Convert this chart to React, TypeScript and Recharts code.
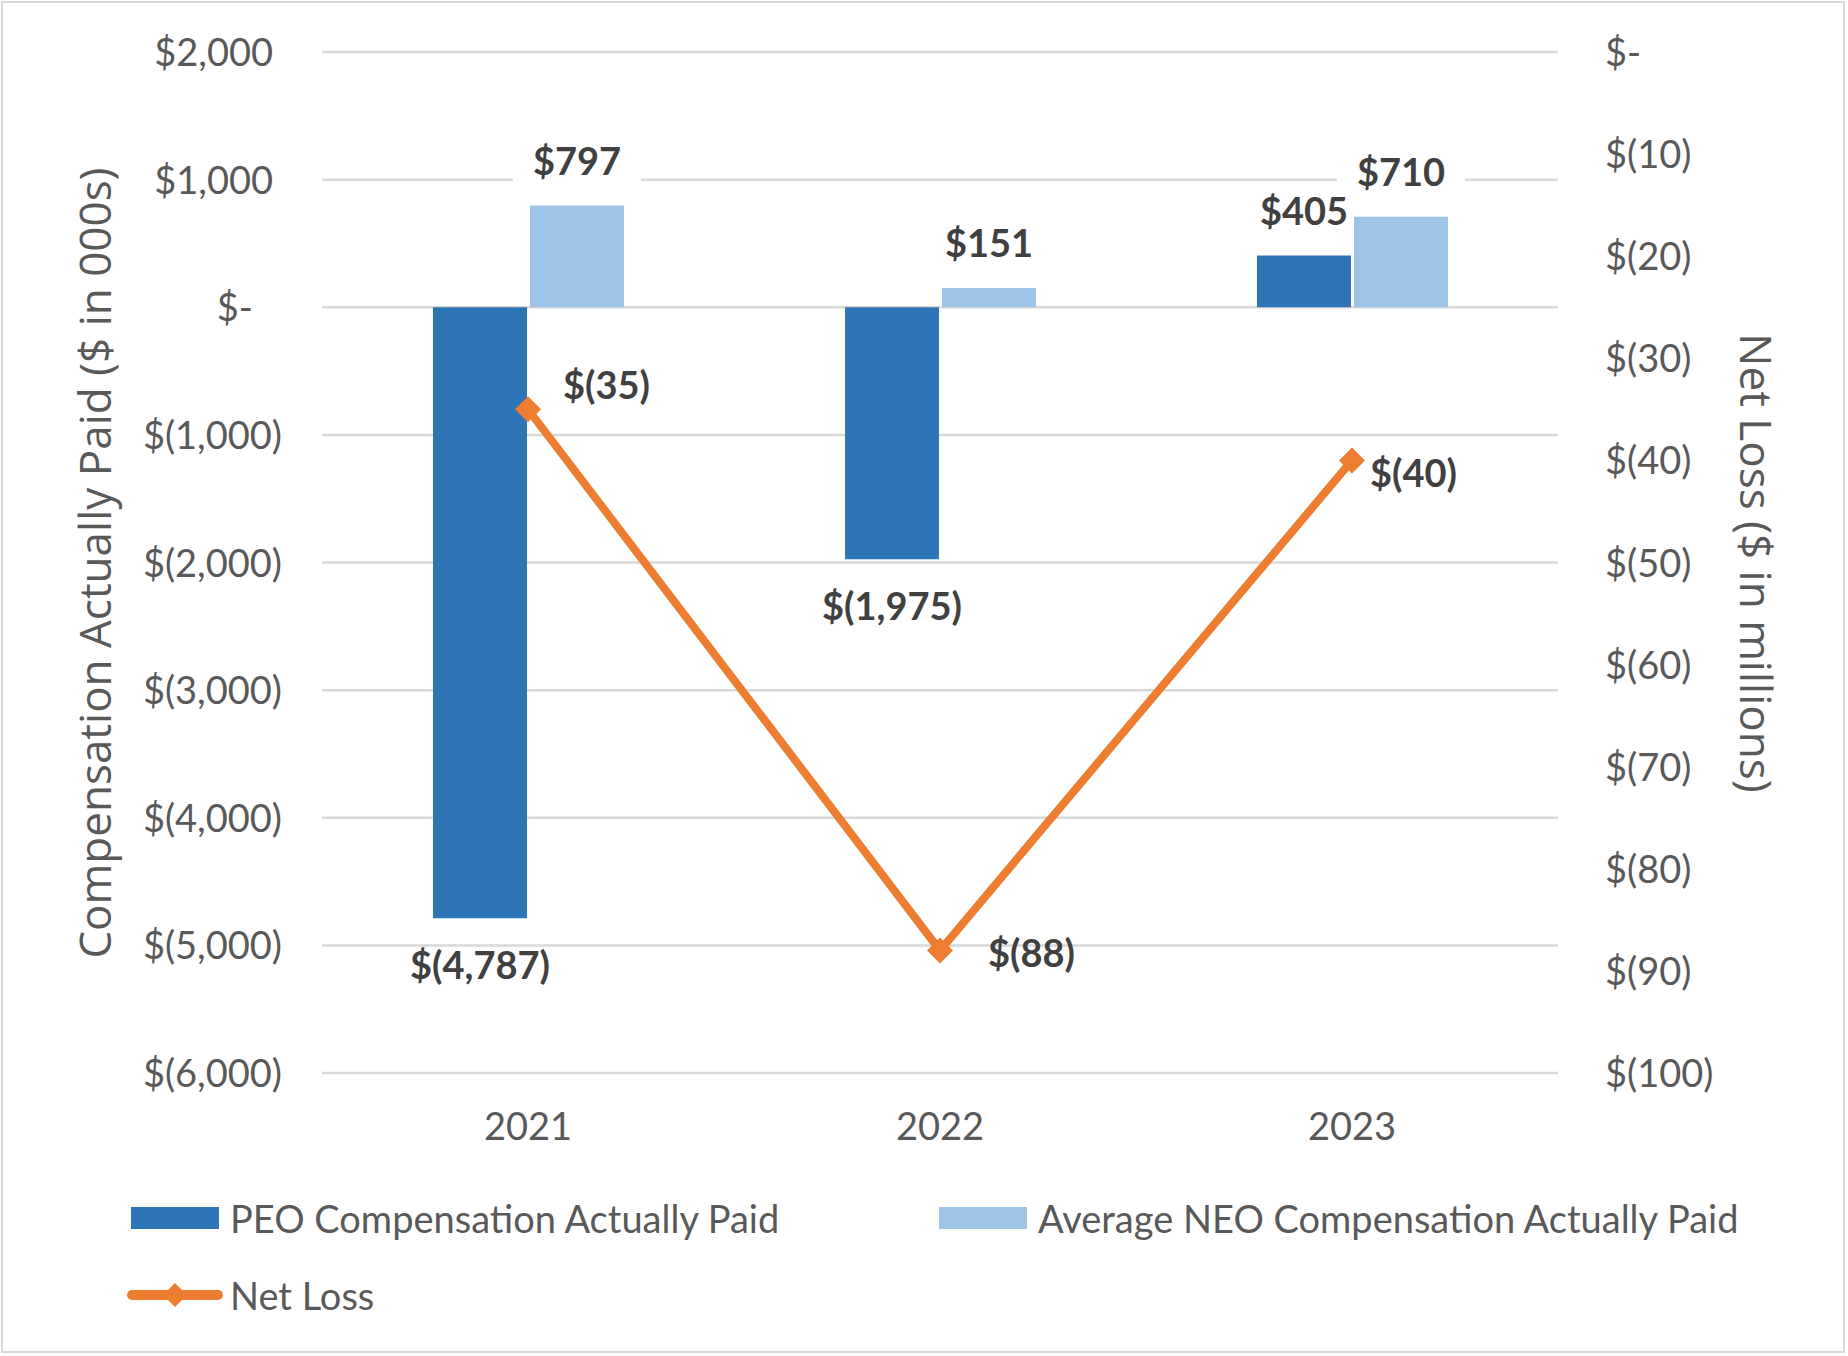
import React from 'react';
import { ComposedChart, Bar, Line, XAxis, YAxis, CartesianGrid, Legend, LabelList } from 'recharts';

// ---------- data ----------
const years = ['2021', '2022', '2023'];
const peoCompensation = [-4787, -1975, 405];
const neoCompensation = [797, 151, 710];
const netLoss = [-35, -88, -40];
const leftTicks = [2000, 1000, 0, -1000, -2000, -3000, -4000, -5000, -6000];
const rightTicks = [0, -10, -20, -30, -40, -50, -60, -70, -80, -90, -100];
const seriesNames = ['PEO Compensation Actually Paid', 'Average NEO Compensation Actually Paid', 'Net Loss'];
const leftAxisTitle = 'Compensation Actually Paid ($ in 000s)';
const rightAxisTitle = 'Net Loss ($ in millions)';

// ---------- style ----------
const PEO_COLOR = '#2E75B6';
const NEO_COLOR = '#9DC3E6';
const LINE_COLOR = '#ED7D31';
const TEXT_COLOR = '#595959';
const LABEL_COLOR = '#404040';
const GRID_COLOR = '#D9D9D9';
const FONT = 'Lato, "Noto Sans", sans-serif';
const TITLE_FONT = '"Open Sans", "Noto Sans", sans-serif';
const TICK_SIZE = 38;
const LABEL_SIZE = 38;
const TITLE_SIZE = 44;
const lineLabelOffsets = [
  { dx: 35, dy: -23 },
  { dx: 48, dy: 4 },
  { dx: 18, dy: 14 },
];

const data = years.map((year, i) => ({
  year,
  peo: peoCompensation[i],
  neo: neoCompensation[i],
  net: netLoss[i],
}));

const fmtMoney = (v: number) =>
  v === 0
    ? '$-'
    : v > 0
    ? `$${v.toLocaleString('en-US')}`
    : `$(${Math.abs(v).toLocaleString('en-US')})`;

const estWidth = (s: string, fs: number) => {
  let w = 0;
  for (const ch of s) {
    if (ch === ',') w += 0.25;
    else if (ch === '(' || ch === ')') w += 0.33;
    else w += 0.58;
  }
  return w * fs;
};

const LeftTick = (props: any) => {
  const { x, y, payload } = props;
  const v = payload.value;
  const dx = v > 0 ? -9 : v === 0 ? -29 : 0;
  return (
    <text x={x + dx} y={y + 14} textAnchor="end" fill={TEXT_COLOR} fontSize={TICK_SIZE} fontFamily={FONT}>
      {fmtMoney(v)}
    </text>
  );
};

const RightTick = (props: any) => {
  const { x, y, payload } = props;
  return (
    <text x={x} y={y + 14} textAnchor="start" fill={TEXT_COLOR} fontSize={TICK_SIZE} fontFamily={FONT}>
      {fmtMoney(payload.value)}
    </text>
  );
};

const XTick = (props: any) => {
  const { x, y, payload } = props;
  return (
    <text x={x} y={y + 67} textAnchor="middle" fill={TEXT_COLOR} fontSize={TICK_SIZE} fontFamily={FONT}>
      {payload.value}
    </text>
  );
};

const makeBarLabel = (withBox: boolean) => (props: any) => {
  const { x, y, width, height, value } = props;
  if (value == null) return null;
  const top = Math.min(y, y + height);
  const bottom = Math.max(y, y + height);
  const cx = x + width / 2;
  const cy = value < 0 ? bottom + 48 : top - 44;
  const text = fmtMoney(value);
  const tw = estWidth(text, LABEL_SIZE);
  return (
    <g>
      {withBox && <rect x={cx - tw / 2 - 20} y={cy - 19} width={tw + 40} height={42} fill="#ffffff" />}
      <text x={cx} y={cy + 13} textAnchor="middle" fill={LABEL_COLOR} fontSize={LABEL_SIZE} fontWeight={700} fontFamily={FONT}>
        {text}
      </text>
    </g>
  );
};

const LineLabel = (props: any) => {
  const { x, y, value, index } = props;
  let i = typeof index === 'number' ? index : netLoss.indexOf(value);
  if (i < 0) i = 0;
  const off = lineLabelOffsets[i] || { dx: 20, dy: 0 };
  return (
    <text x={x + off.dx} y={y + off.dy + 13} textAnchor="start" fill={LABEL_COLOR} fontSize={LABEL_SIZE} fontWeight={700} fontFamily={FONT}>
      {fmtMoney(value)}
    </text>
  );
};

const DiamondDot = (props: any) => {
  const { cx, cy } = props;
  if (cx == null || cy == null) return null;
  const r = 13;
  return <polygon points={`${cx},${cy - r} ${cx + r},${cy} ${cx},${cy + r} ${cx - r},${cy}`} fill={LINE_COLOR} />;
};

const legendLayout = [
  { left: 131, top: 1198 },
  { left: 939, top: 1198 },
  { left: 127, top: 1275 },
];

const renderLegend = (props: any) => {
  const payload = props.payload || [];
  return (
    <div style={{ position: 'relative', width: 1848, height: 160 }}>
      {payload.map((entry: any, k: number) => {
        let i = seriesNames.indexOf(entry.value);
        if (i < 0) i = k;
        const pos = legendLayout[i] || legendLayout[0];
        const isLine = entry.type === 'line';
        return (
          <div
            key={`leg-${i}`}
            style={{
              position: 'absolute',
              left: pos.left,
              top: pos.top - 1170,
              height: 40,
              display: 'flex',
              alignItems: 'center',
              whiteSpace: 'nowrap',
            }}
          >
            {isLine ? (
              <svg width={96} height={30} style={{ display: 'block' }}>
                <line x1={5} y1={15} x2={91} y2={15} stroke={entry.color} strokeWidth={10} strokeLinecap="round" />
                <polygon points="48,3 60,15 48,27 36,15" fill={entry.color} />
              </svg>
            ) : (
              <div style={{ width: 88, height: 22, background: entry.color }} />
            )}
            <span
              style={{
                marginLeft: isLine ? 7 : 11,
                fontFamily: FONT,
                fontSize: TICK_SIZE,
                color: TEXT_COLOR,
                lineHeight: '40px',
              }}
            >
              {entry.value}
            </span>
          </div>
        );
      })}
    </div>
  );
};

export default function App() {
  return (
    <div style={{ position: 'relative', width: 1848, height: 1356, background: '#ffffff' }}>
      <style>{`body{margin:0;background:#fff;}`}</style>
      <div
        style={{
          position: 'absolute',
          left: 1,
          top: 1,
          width: 1844,
          height: 1352,
          border: `2px solid ${GRID_COLOR}`,
          boxSizing: 'border-box',
          pointerEvents: 'none',
        }}
      />
      <ComposedChart
        width={1848}
        height={1356}
        data={data}
        margin={{ top: 52, right: 0, bottom: 223, left: 0 }}
        barGap={3}
        barSize={94}
      >
        <CartesianGrid yAxisId="left" horizontal vertical={false} stroke={GRID_COLOR} strokeWidth={2.5} />
        <XAxis
          dataKey="year"
          height={60}
          axisLine={false}
          tickLine={false}
          tickSize={0}
          tickMargin={0}
          tick={<XTick />}
          interval={0}
        />
        <YAxis
          yAxisId="left"
          orientation="left"
          width={322}
          domain={[-6000, 2000]}
          ticks={leftTicks}
          interval={0}
          axisLine={false}
          tickLine={false}
          tickSize={0}
          tickMargin={40}
          tick={<LeftTick />}
          label={{
            content: () => (
              <text
                transform="translate(94,563) rotate(-90)"
                textAnchor="middle"
                dominantBaseline="central"
                fill={TEXT_COLOR}
                fontSize={TITLE_SIZE}
                fontFamily={TITLE_FONT}
              >
                {leftAxisTitle}
              </text>
            ),
          }}
        />
        <YAxis
          yAxisId="right"
          orientation="right"
          width={290}
          domain={[-100, 0]}
          ticks={rightTicks}
          interval={0}
          axisLine={false}
          tickLine={false}
          tickSize={0}
          tickMargin={47}
          tick={<RightTick />}
          label={{
            content: () => (
              <text
                transform="translate(1757,563) rotate(90)"
                textAnchor="middle"
                dominantBaseline="central"
                fill={TEXT_COLOR}
                fontSize={TITLE_SIZE}
                fontFamily={TITLE_FONT}
              >
                {rightAxisTitle}
              </text>
            ),
          }}
        />
        <Bar yAxisId="left" dataKey="peo" name={seriesNames[0]} fill={PEO_COLOR} isAnimationActive={false}>
          <LabelList dataKey="peo" content={makeBarLabel(false)} />
        </Bar>
        <Bar yAxisId="left" dataKey="neo" name={seriesNames[1]} fill={NEO_COLOR} isAnimationActive={false}>
          <LabelList dataKey="neo" content={makeBarLabel(true)} />
        </Bar>
        <Line
          yAxisId="right"
          dataKey="net"
          name={seriesNames[2]}
          stroke={LINE_COLOR}
          strokeWidth={8}
          dot={<DiamondDot />}
          activeDot={false}
          isAnimationActive={false}
        >
          <LabelList dataKey="net" content={<LineLabel />} />
        </Line>
        <Legend
          layout="horizontal"
          verticalAlign="middle"
          align="center"
          content={renderLegend}
          wrapperStyle={{ position: 'absolute', top: 1170, left: 0, width: 1848, height: 160 }}
        />
      </ComposedChart>
    </div>
  );
}
